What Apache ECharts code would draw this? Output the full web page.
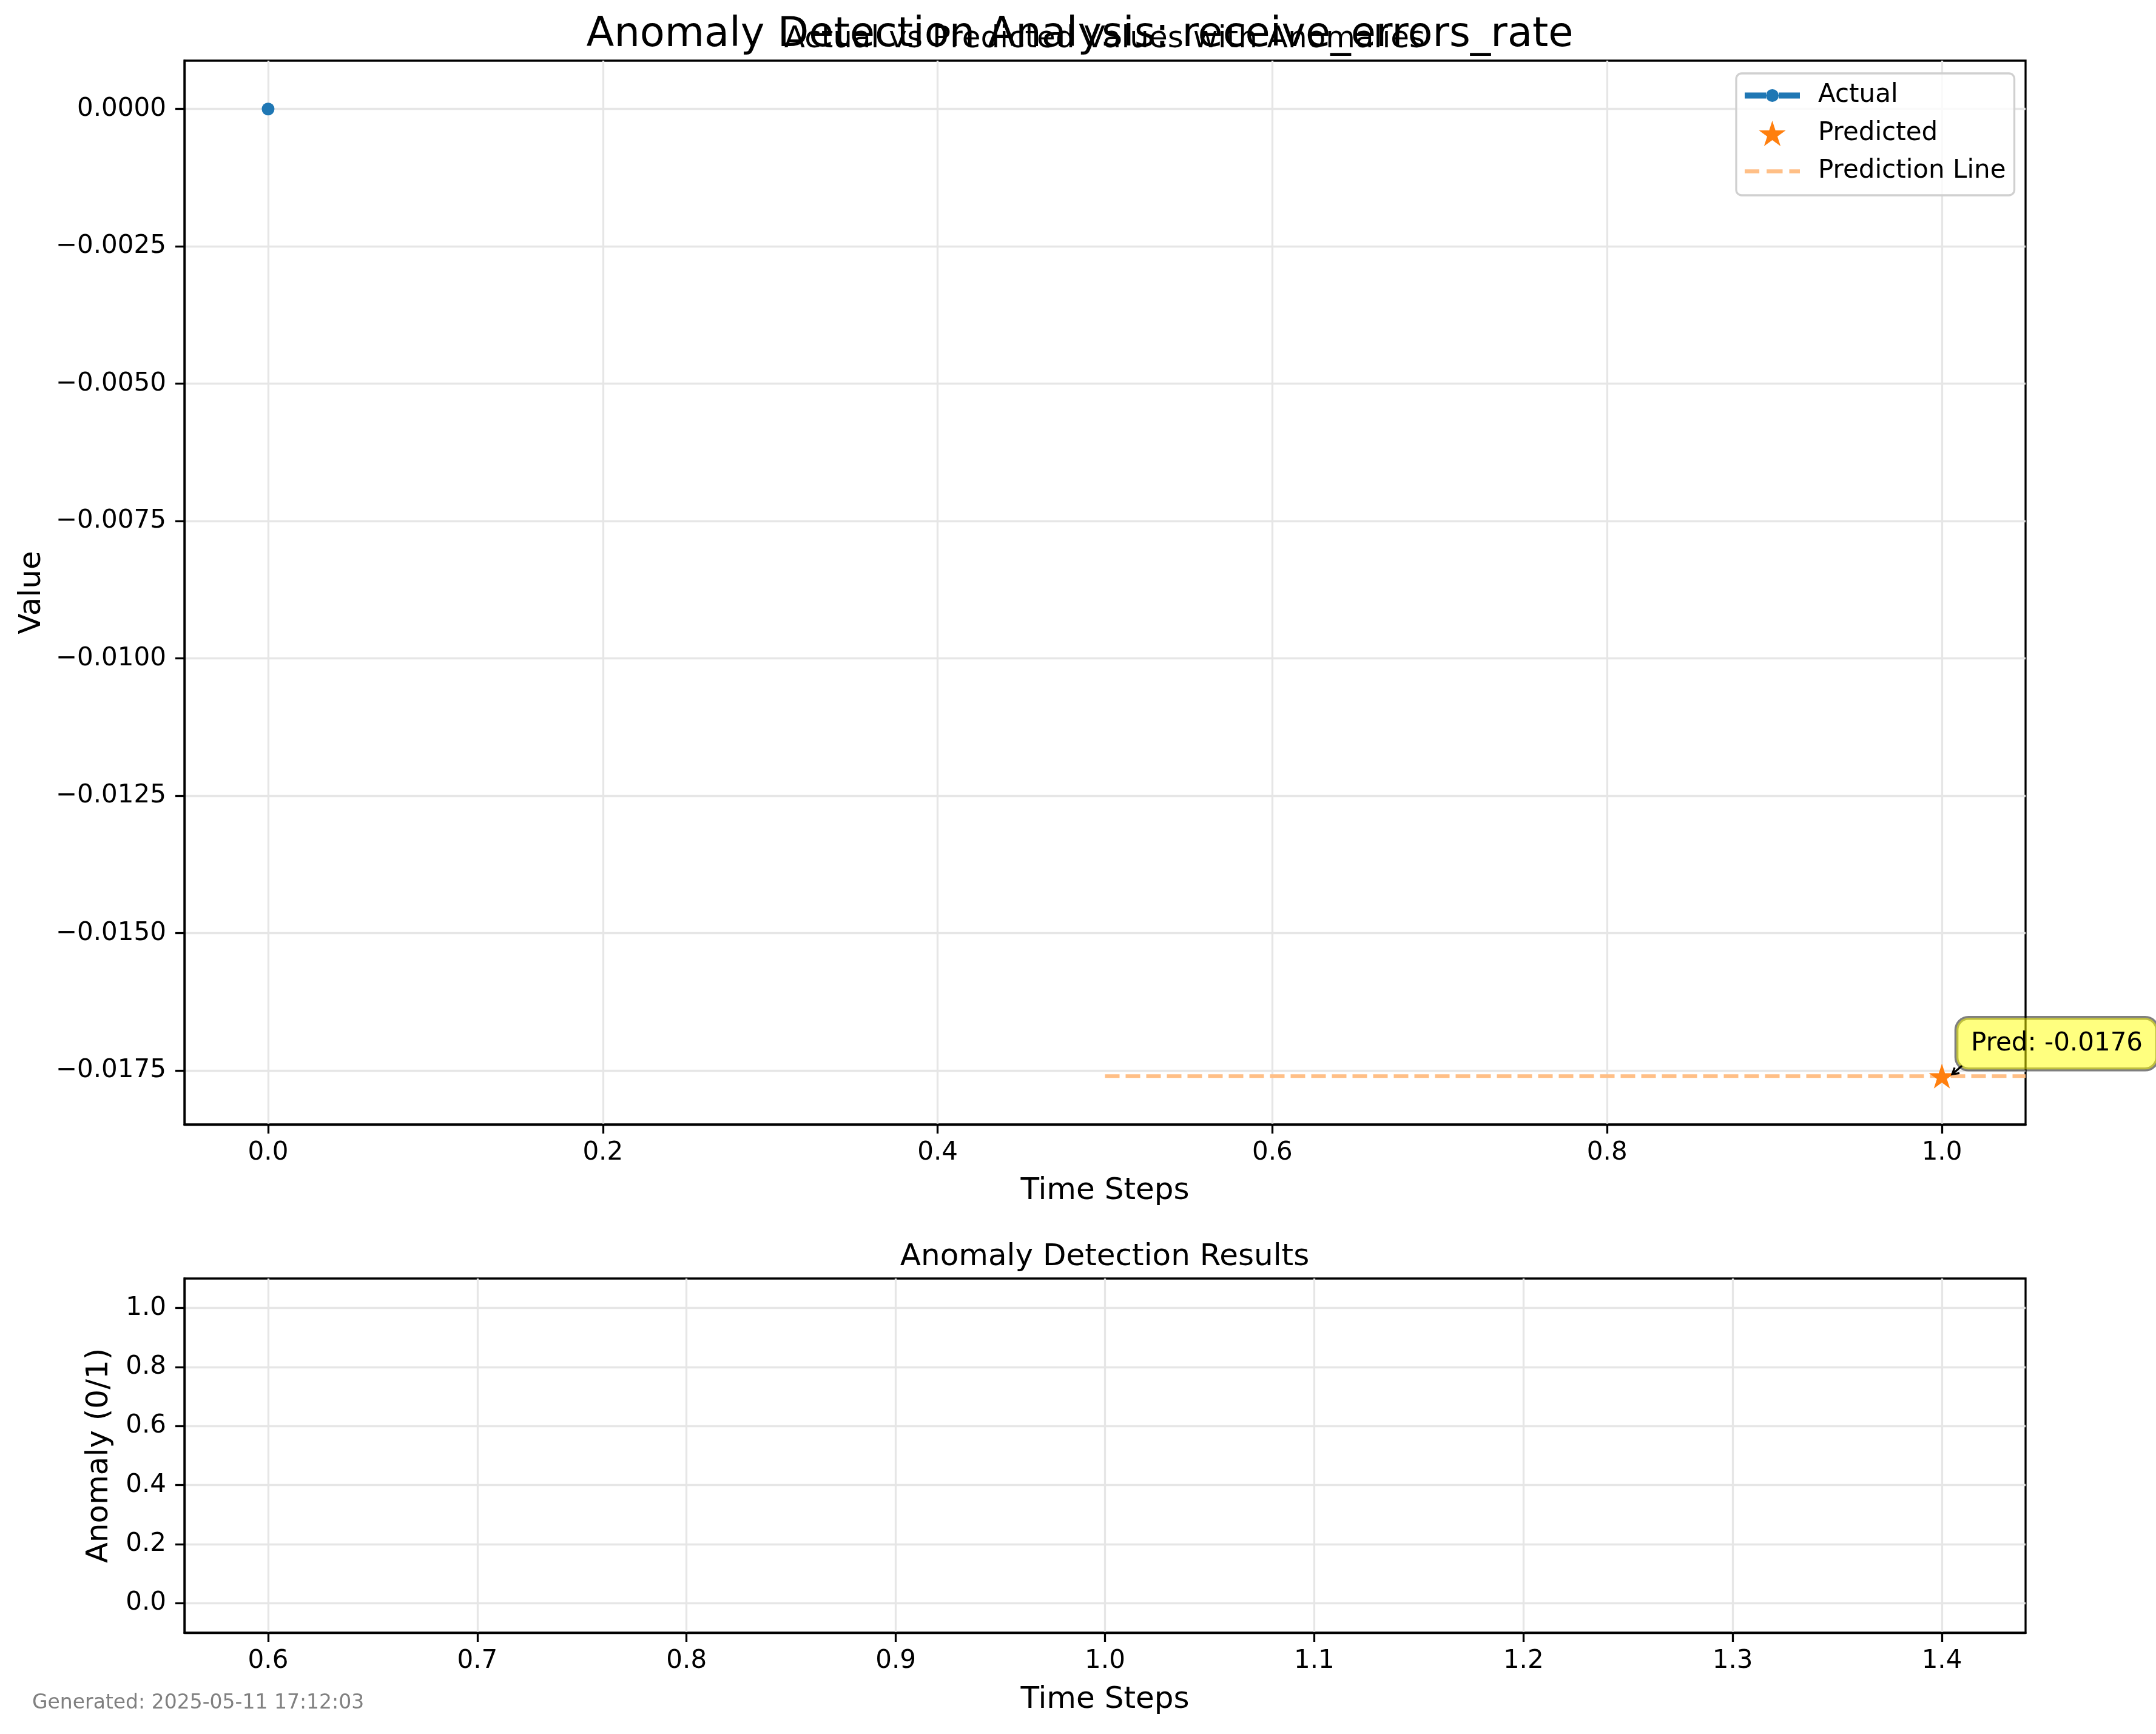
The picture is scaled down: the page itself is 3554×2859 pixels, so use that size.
<!DOCTYPE html>
<html><head><meta charset="utf-8">
<script src="https://cdn.jsdelivr.net/npm/echarts@6/dist/echarts.min.js"></script>
<style>html,body{margin:0;padding:0;background:#fff}#c{width:3554px;height:2859px}</style>
</head><body><div id="c"></div><script>
// ---- data ----
const actualX = [0.0];
const actualY = [0.0];
const predX = [1.0];
const predY = [-0.0176];
const predLineX = [0.5, 1.05];
const anomalyX = [];
const anomalyY = [];
// ---- ticks ----
const topXTicks = [0.0, 0.2, 0.4, 0.6, 0.8, 1.0];
const topYTicks = [0.0, -0.0025, -0.005, -0.0075, -0.01, -0.0125, -0.015, -0.0175];
const botXTicks = [0.6, 0.7, 0.8, 0.9, 1.0, 1.1, 1.2, 1.3, 1.4];
const botYTicks = [0.0, 0.2, 0.4, 0.6, 0.8, 1.0];
const topXRange = [-0.05, 1.05];
const topYRange = [-0.01848, 0.00088];
const botXRange = [0.56, 1.44];
const botYRange = [-0.1, 1.1];
const titleMain = 'Anomaly Detection Analysis: receive_errors_rate';
const titleTop = 'Actual vs Predicted Values with Anomalies';
const titleBottom = 'Anomaly Detection Results';
const footer = 'Generated: 2025-05-11 17:12:03';

const FONT = 'DejaVu Sans';
const fmt = d => v => (v < 0 ? '\u2212' : '') + Math.abs(v).toFixed(d);
const STAR = 'path://M50,0L61.23,34.55L97.55,34.55L68.17,55.9L79.39,90.45L50,69.1L20.61,90.45L31.83,55.9L2.45,34.55L38.77,34.55Z';
const ACTUAL_ICON = 'path://M0,5.5h35v10h-35z M35,10.5a10.5,10.5 0 1,0 21,0a10.5,10.5 0 1,0 -21,0z M56,5.5h35v10h-35z';
const DASH_ICON = 'path://M0,0h22v6h-22z M33,0h24v6h-24z M67,0h16v6h-16z';

function axis(gridIndex, range, ticks, digits, name, gap, isY) {
  return {
    type: 'value', gridIndex, min: range[0], max: range[1],
    name, nameLocation: 'middle', nameGap: gap, nameRotate: isY ? 90 : 0,
    nameTextStyle: {fontFamily: FONT, fontSize: 50, color: '#000'},
    axisLine: {show: true, onZero: false, lineStyle: {color: '#000', width: 3.3}},
    axisTick: {show: true, inside: false, length: 15, lineStyle: {color: '#000', width: 3.3}, customValues: ticks},
    axisLabel: {show: true, margin: isY ? 30 : 26, fontFamily: FONT, fontSize: 42, color: '#000', formatter: fmt(digits), customValues: ticks},
    splitLine: {show: true, lineStyle: {color: '#e6e6e6', width: 3.3}},
  };
}

const chart = echarts.init(document.getElementById('c'), null, {renderer: 'canvas'});
const option = {
  animation: false,
  backgroundColor: '#fff',
  textStyle: {fontFamily: FONT},
  title: [
    {text: titleMain, left: 1780, top: 25, textAlign: 'center', textVerticalAlign: 'top', padding: 0,
     textStyle: {fontFamily: FONT, fontSize: 67, fontWeight: 'normal', color: '#000'}},
    {text: titleTop, left: 1821, top: 40, textAlign: 'center', textVerticalAlign: 'top', padding: 0,
     textStyle: {fontFamily: FONT, fontSize: 50, fontWeight: 'normal', color: '#000'}},
    {text: titleBottom, left: 1821, top: 2048, textAlign: 'center', textVerticalAlign: 'top', padding: 0,
     textStyle: {fontFamily: FONT, fontSize: 50, fontWeight: 'normal', color: '#000'}},
    {text: footer, left: 53, top: 2792, textAlign: 'left', textVerticalAlign: 'top', padding: 0,
     textStyle: {fontFamily: FONT, fontSize: 33, fontWeight: 'normal', color: '#808080'}},
  ],
  grid: [
    {left: 304, top: 100, width: 3035, height: 1754, show: true, borderColor: '#000', borderWidth: 3.3, backgroundColor: 'transparent', containLabel: false},
    {left: 304, top: 2108, width: 3035, height: 584, show: true, borderColor: '#000', borderWidth: 3.3, backgroundColor: 'transparent', containLabel: false},
  ],
  xAxis: [
    axis(0, topXRange, topXTicks, 1, 'Time Steps', 85, false),
    axis(1, botXRange, botXTicks, 1, 'Time Steps', 86, false),
  ],
  yAxis: [
    axis(0, topYRange, topYTicks, 4, 'Value', 226, true),
    axis(1, botYRange, botYTicks, 1, 'Anomaly (0/1)', 115, true),
  ],
  legend: {
    show: true, orient: 'vertical', left: 2862, top: 121,
    padding: [15.5, 14, 18.5, 14], itemGap: 20.5, itemWidth: 91, itemHeight: 42,
    backgroundColor: 'rgba(255,255,255,0.8)', borderColor: '#d0d0d0', borderWidth: 3.3, borderRadius: 9,
    textStyle: {fontFamily: FONT, fontSize: 42, color: '#000', padding: [0, 0, 0, 25]},
    data: [
      {name: 'Actual', icon: ACTUAL_ICON},
      {name: 'Predicted', icon: STAR},
      {name: 'Prediction Line', icon: DASH_ICON},
    ],
  },
  series: [
    {
      name: 'Actual', type: 'line', xAxisIndex: 0, yAxisIndex: 0,
      data: actualX.map((x, i) => [x, actualY[i]]),
      symbol: 'circle', symbolSize: 21, showSymbol: true,
      lineStyle: {color: '#1f77b4', width: 10}, itemStyle: {color: '#1f77b4'}, z: 3,
    },
    {
      name: 'Predicted', type: 'scatter', xAxisIndex: 0, yAxisIndex: 0,
      data: predX.map((x, i) => [x, predY[i]]),
      symbol: STAR, symbolSize: [43, 41], itemStyle: {color: '#ff7f0e', opacity: 1}, z: 4,
      label: {
        show: true, position: [45.5, -75.5], align: 'left', verticalAlign: 'top',
        formatter: p => 'Pred: ' + fmt(4)(p.value[1]).replace('\u2212', '-'),
        fontFamily: FONT, fontSize: 42, color: '#000', lineHeight: 42,
        backgroundColor: 'rgba(255,255,0,0.5)', borderColor: 'rgba(0,0,0,0.5)', borderWidth: 3.3, borderRadius: 20,
        padding: [21.5, 24, 21.5, 24],
      },
    },
    {
      name: 'Prediction Line', type: 'line', xAxisIndex: 0, yAxisIndex: 0,
      data: predLineX.map(x => [x, predY[0]]),
      symbol: 'none', showSymbol: false,
      lineStyle: {color: '#ffbf86', width: 6, type: [24, 10]}, itemStyle: {color: '#ffbf86'}, z: 2,
    },
    {
      name: 'Anomaly', type: 'scatter', xAxisIndex: 1, yAxisIndex: 1,
      data: anomalyX.map((x, i) => [x, anomalyY[i]]),
      itemStyle: {color: '#d62728'},
    },
  ],
};
chart.setOption(option);

// annotation arrow, derived from the library's scale
const p = chart.convertToPixel({gridIndex: 0}, [predX[0], predY[0]]);
const head = [p[0] + 17, p[1] - 3];
const tail = [p[0] + 33, p[1] - 17];
chart.setOption({
  graphic: [
    {type: 'line', z: 100, shape: {x1: tail[0], y1: tail[1], x2: head[0], y2: head[1]}, style: {stroke: '#000', lineWidth: 3.3}},
    {type: 'polyline', z: 100, shape: {points: [[head[0] + 4, head[1] - 11], head, [head[0] + 12, head[1] - 2]]}, style: {stroke: '#000', lineWidth: 3.3, fill: null}},
  ],
});
</script></body></html>
